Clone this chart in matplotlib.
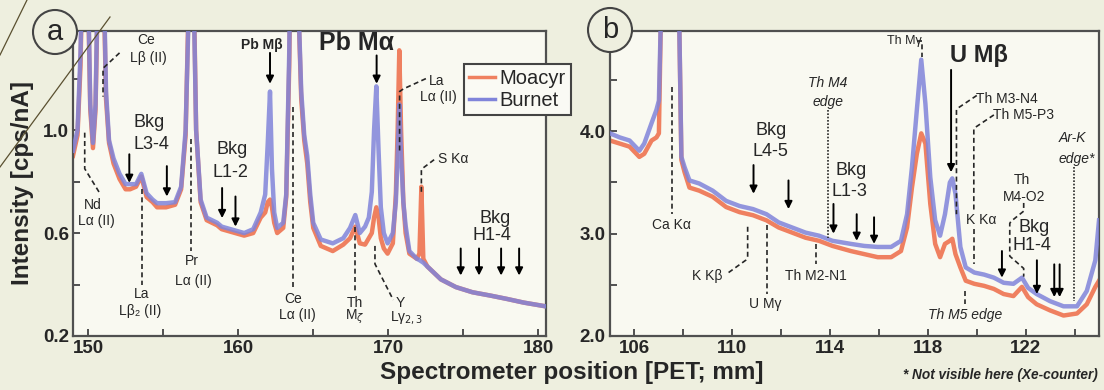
import matplotlib
matplotlib.use('Agg')
import matplotlib.pyplot as plt
from matplotlib.patches import Ellipse
from matplotlib.lines import Line2D

plt.rcParams['font.family'] = ['Liberation Sans', 'DejaVu Sans']

# ---- panel a: spectrometer position [mm], intensity [cps/nA] ----
pos_a = [149.0, 149.3, 149.5, 149.62, 149.8, 149.98, 150.15, 150.33, 150.5, 150.67,
         150.85, 151.03, 151.2, 151.4, 151.7, 152.1, 152.5, 152.8, 153.2, 153.55,
         153.9, 154.3, 154.6, 155.2, 155.8, 156.2, 156.5, 156.7, 156.87, 157.03,
         157.2, 157.5, 157.9, 158.6, 158.9, 159.8, 160.4, 161.0, 161.5, 161.8,
         161.97, 162.12, 162.25, 162.4, 162.6, 163.0, 163.2, 163.4, 163.6, 163.75,
         163.95, 164.2, 164.4, 164.6, 164.8, 165.0, 165.5, 166.3, 167.0, 167.45,
         167.8, 168.1, 168.45, 168.7, 168.9, 169.05, 169.2, 169.35, 169.5, 169.7,
         169.95, 170.3, 170.5, 170.62, 170.73, 170.85, 171.0, 171.15, 171.4, 171.9,
         172.07, 172.2, 172.33, 172.6, 173.5, 174.5, 175.6, 176.8, 177.9, 179.0, 180.5]
moacyr_a = [0.90, 0.98, 1.25, 1.60, 2.60, 1.60, 1.08, 0.93, 1.08, 1.60,
            2.60, 1.60, 1.12, 0.95, 0.87, 0.81, 0.77, 0.77, 0.78, 0.82,
            0.74, 0.72, 0.70, 0.70, 0.71, 0.77, 0.98, 1.50, 2.60, 1.60,
            1.00, 0.72, 0.65, 0.63, 0.615, 0.60, 0.59, 0.60, 0.66, 0.68,
            0.72, 0.73, 0.70, 0.64, 0.60, 0.62, 0.74, 1.25, 2.20, 2.60,
            1.60, 1.12, 0.96, 0.87, 0.72, 0.62, 0.55, 0.53, 0.555, 0.58,
            0.625, 0.56, 0.555, 0.58, 0.60, 0.66, 0.70, 0.66, 0.58, 0.54,
            0.52, 0.56, 0.75, 1.00, 1.31, 1.00, 0.72, 0.60, 0.52, 0.50,
            0.52, 0.78, 0.50, 0.47, 0.42, 0.39, 0.37, 0.357, 0.344, 0.33, 0.315]
burnet_a = [0.92, 1.00, 1.30, 1.65, 2.60, 1.65, 1.10, 0.95, 1.10, 1.65,
            2.60, 1.65, 1.15, 0.96, 0.89, 0.83, 0.79, 0.79, 0.79, 0.83,
            0.755, 0.73, 0.716, 0.716, 0.72, 0.78, 1.00, 1.45, 2.50, 1.55,
            1.00, 0.73, 0.66, 0.64, 0.625, 0.61, 0.60, 0.615, 0.68, 0.75,
            0.95, 1.15, 0.85, 0.68, 0.62, 0.64, 0.75, 1.30, 2.20, 2.60,
            1.60, 1.15, 0.98, 0.90, 0.75, 0.64, 0.575, 0.56, 0.58, 0.62,
            0.67, 0.60, 0.625, 0.66, 0.76, 1.00, 1.17, 0.92, 0.70, 0.60,
            0.56, 0.60, 0.72, 0.90, 1.10, 0.90, 0.72, 0.63, 0.53, 0.50,
            0.495, 0.49, 0.485, 0.47, 0.42, 0.39, 0.37, 0.357, 0.344, 0.33, 0.315]

# ---- panel b ----
pos_b = [105.0, 105.4, 105.8, 106.2, 106.4, 106.7, 106.9, 107.0, 107.08, 107.45,
         107.83, 107.92, 108.05, 108.25, 108.65, 109.2, 109.75, 110.3, 110.85, 111.4,
         111.9, 112.45, 113.0, 113.55, 114.1, 114.85, 115.4, 115.95, 116.5, 116.9,
         117.15, 117.35, 117.55, 117.73, 117.9, 118.1, 118.3, 118.5, 118.7, 118.9,
         119.0, 119.13, 119.33, 119.55, 119.9, 120.3, 120.7, 121.1, 121.5, 121.85,
         122.1, 122.45, 123.0, 123.55, 124.1, 124.5, 124.85, 125.0]
moacyr_b = [3.91, 3.88, 3.85, 3.75, 3.78, 3.91, 3.94, 3.98, 5.1, 9.0,
            5.1, 3.72, 3.60, 3.45, 3.42, 3.36, 3.26, 3.21, 3.18, 3.13,
            3.06, 3.01, 2.96, 2.93, 2.88, 2.83, 2.80, 2.77, 2.77, 2.83,
            3.06, 3.45, 3.78, 3.98, 3.88, 3.29, 2.90, 2.77, 2.90, 2.93,
            2.95, 2.80, 2.67, 2.54, 2.51, 2.49, 2.46, 2.41, 2.39, 2.48,
            2.38, 2.31, 2.25, 2.20, 2.22, 2.31, 2.48, 2.54]
burnet_b = [3.98, 3.94, 3.91, 3.81, 3.88, 4.08, 4.21, 4.30, 5.1, 9.0,
            5.1, 3.75, 3.65, 3.52, 3.49, 3.42, 3.32, 3.27, 3.24, 3.19,
            3.11, 3.06, 3.01, 2.98, 2.93, 2.90, 2.88, 2.87, 2.87, 2.93,
            3.19, 3.65, 4.21, 4.70, 4.27, 3.55, 3.13, 2.98, 3.19, 3.50,
            3.54, 3.39, 2.87, 2.67, 2.62, 2.60, 2.57, 2.52, 2.51, 2.57,
            2.47, 2.41, 2.34, 2.29, 2.29, 2.44, 2.74, 3.13]

# background positions (arrows)
bkg_l34 = [152.75, 155.25]
bkg_l12 = [158.93, 159.82]
bkg_h14_a = [174.82, 176.04, 177.51, 178.71]
bkg_l45 = [110.87, 112.3]
bkg_l13 = [114.14, 115.09, 115.8]
bkg_h14_b = [121.03, 122.46, 123.17, 123.39]

c_moacyr = '#ef8060'
c_burnet = '#8084da'
ink = '#262626'
bg = '#eeefdf'
W, H = 1104, 390

fig = plt.figure(figsize=(W / 100, H / 100), dpi=100, facecolor=bg)
axa = fig.add_axes([73 / W, 1 - 336 / H, 473 / W, 305 / H])
axb = fig.add_axes([610 / W, 1 - 336 / H, 489 / W, 305 / H])


def dash(ax, xs, ys, ls=(0, (3, 2))):
    ax.plot(xs, ys, color=ink, lw=1.2, ls=ls, zorder=4)


def arrow(ax, x, y0, y1):
    ax.annotate('', xy=(x, y1), xytext=(x, y0),
                arrowprops=dict(arrowstyle='-|>', color='k', lw=1.4,
                                mutation_scale=11, shrinkA=0, shrinkB=0), zorder=5)


def txt(ax, x, y, s, size=10, **kw):
    ax.text(x, y, s, ha='center', va='center', fontsize=size, color=ink, zorder=5, **kw)


for ax in (axa, axb):
    ax.set_facecolor('#f9f9f1')
    for sp in ax.spines.values():
        sp.set_color('#505050')
        sp.set_linewidth(1.6)
    ax.tick_params(direction='in', length=5, width=1.4, color='#505050', pad=3)

axa.plot(pos_a, moacyr_a, color=c_moacyr, lw=3.2, zorder=2)
axa.plot(pos_a, burnet_a, color=c_burnet, lw=3.2, alpha=0.85, zorder=3)
axb.plot(pos_b, moacyr_b, color=c_moacyr, lw=3.2, zorder=2)
axb.plot(pos_b, burnet_b, color=c_burnet, lw=3.2, alpha=0.85, zorder=3)

axa.set_xlim(149.0, 180.5)
axa.set_ylim(0.2, 1.385)
axa.set_xticks([150, 155, 160, 165, 170, 175, 180])
axa.set_xticklabels(['150', '', '160', '', '170', '', '180'], fontsize=13.5, fontweight='bold', color=ink)
axa.set_yticks([0.2, 0.4, 0.6, 0.8, 1.0, 1.2])
axa.set_yticklabels(['0.2', '', '0.6', '', '1.0', ''], fontsize=13.5, fontweight='bold', color=ink)

axb.set_xlim(105.0, 125.0)
axb.set_ylim(2.0, 4.98)
axb.set_xticks([106, 108, 110, 112, 114, 116, 118, 120, 122, 124])
axb.set_xticklabels(['106', '', '110', '', '114', '', '118', '', '122', ''], fontsize=13.5, fontweight='bold', color=ink)
axb.set_yticks([2.0, 2.5, 3.0, 3.5, 4.0, 4.5])
axb.set_yticklabels(['2.0', '', '3.0', '', '4.0', ''], fontsize=13.5, fontweight='bold', color=ink)

# ---- panel a annotations ----
txt(axa, 153.9, 1.35, 'Ce')
txt(axa, 154.0, 1.28, 'Lβ (II)')
dash(axa, [152.1, 151.0, 151.0], [1.30, 1.24, 1.13])
txt(axa, 150.33, 0.71, 'Nd')
txt(axa, 150.56, 0.645, 'Lα (II)')
dash(axa, [149.78, 149.78, 150.78], [0.99, 0.85, 0.755])
txt(axa, 153.57, 0.363, 'La')
txt(axa, 153.46, 0.298, 'Lβ₂ (II)')
dash(axa, [153.57, 153.57], [0.77, 0.40])
txt(axa, 156.92, 0.49, 'Pr')
txt(axa, 157.03, 0.415, 'Lα (II)')
dash(axa, [156.88, 156.88], [0.965, 0.53])
txt(axa, 163.68, 0.344, 'Ce')
txt(axa, 163.95, 0.28, 'Lα (II)')
dash(axa, [163.68, 163.68], [1.09, 0.38])
txt(axa, 161.6, 1.33, 'Pb Mβ', size=10, fontweight='bold')
arrow(axa, 162.12, 1.30, 1.18)
txt(axa, 154.1, 1.03, 'Bkg', size=13)
txt(axa, 154.2, 0.945, 'L3-4', size=13)
arrow(axa, bkg_l34[0], 0.906, 0.795)
arrow(axa, bkg_l34[1], 0.86, 0.742)
txt(axa, 159.6, 0.925, 'Bkg', size=13)
txt(axa, 159.5, 0.834, 'L1-2', size=13)
arrow(axa, bkg_l12[0], 0.775, 0.658)
arrow(axa, bkg_l12[1], 0.742, 0.625)
txt(axa, 167.9, 1.337, 'Pb Mα', size=18, fontweight='bold')
arrow(axa, 169.22, 1.29, 1.18)
txt(axa, 173.2, 1.19, 'La')
txt(axa, 173.3, 1.13, 'Lα (II)')
dash(axa, [172.5, 171.0, 170.75, 170.75], [1.20, 1.16, 1.15, 0.91])
txt(axa, 174.3, 0.886, 'S Kα')
dash(axa, [173.05, 172.25, 172.2, 172.2], [0.885, 0.85, 0.845, 0.76])
txt(axa, 167.78, 0.33, 'Th')
txt(axa, 167.78, 0.275, r'M$_\zeta$')
dash(axa, [167.78, 167.78], [0.625, 0.37])
txt(axa, 170.78, 0.33, 'Y')
txt(axa, 171.2, 0.272, r'Lγ$_{2,3}$')
dash(axa, [169.11, 169.11, 170.33], [0.55, 0.48, 0.34])
txt(axa, 177.1, 0.657, 'Bkg', size=13)
txt(axa, 176.9, 0.59, 'H1-4', size=13)
for x in bkg_h14_a:
    arrow(axa, x, 0.54, 0.435)

# ---- panel b annotations ----
txt(axb, 107.5, 3.08, 'Ca Kα')
dash(axb, [107.52, 107.52], [4.43, 3.19])
txt(axb, 108.99, 2.59, 'K Kβ')
dash(axb, [109.85, 110.55, 110.63, 110.63], [2.62, 2.74, 2.78, 3.09])
txt(axb, 111.37, 2.31, 'U Mγ')
dash(axb, [111.41, 111.41], [3.08, 2.41])
txt(axb, 113.4, 2.59, 'Th M2-N1')
dash(axb, [113.44, 113.44], [2.90, 2.70])
txt(axb, 113.9, 4.47, 'Th M4', style='italic')
txt(axb, 113.9, 4.29, 'edge', style='italic')
dash(axb, [113.92, 113.92], [4.21, 2.96], ls=(0, (1, 1)))
txt(axb, 111.58, 4.01, 'Bkg', size=13)
txt(axb, 111.58, 3.80, 'L4-5', size=13)
arrow(axb, bkg_l45[0], 3.67, 3.39)
arrow(axb, bkg_l45[1], 3.52, 3.24)
txt(axb, 114.85, 3.62, 'Bkg', size=13)
txt(axb, 114.8, 3.41, 'L1-3', size=13)
arrow(axb, bkg_l13[0], 3.29, 3.0)
arrow(axb, bkg_l13[1], 3.19, 2.93)
arrow(axb, bkg_l13[2], 3.16, 2.90)
txt(axb, 117.02, 4.88, 'Th Mγ', size=9)
dash(axb, [117.55, 117.77, 117.77], [4.88, 4.88, 4.73])
txt(axb, 120.08, 4.745, 'U Mβ', size=17, fontweight='bold')
arrow(axb, 118.95, 4.6, 3.60)
txt(axb, 121.24, 4.32, 'Th M3-N4')
dash(axb, [120.0, 119.25, 119.17, 119.17], [4.35, 4.23, 4.21, 3.19])
txt(axb, 121.9, 4.16, 'Th M5-P3')
dash(axb, [120.7, 119.95, 119.88, 119.88], [4.16, 4.04, 4.02, 3.22])
txt(axb, 120.2, 3.13, 'K Kα')
dash(axb, [119.9, 119.9], [3.05, 2.70])
txt(axb, 119.54, 2.21, 'Th M5 edge', style='italic')
dash(axb, [119.5, 119.5], [2.44, 2.31])
txt(axb, 121.85, 3.52, 'Th')
txt(axb, 121.92, 3.36, 'M4-O2')
dash(axb, [121.92, 121.92, 121.4, 121.35, 121.35, 121.92, 121.92],
     [3.30, 3.22, 3.12, 3.10, 2.78, 2.66, 2.58])
txt(axb, 122.33, 3.06, 'Bkg', size=13)
txt(axb, 122.26, 2.88, 'H1-4', size=13)
arrow(axb, bkg_h14_b[0], 2.83, 2.57)
arrow(axb, bkg_h14_b[1], 2.74, 2.41)
arrow(axb, bkg_h14_b[2], 2.70, 2.38)
arrow(axb, bkg_h14_b[3], 2.70, 2.38)
txt(axb, 123.9, 3.93, 'Ar-K', style='italic')
txt(axb, 124.1, 3.73, 'edge*', style='italic')
dash(axb, [123.99, 123.99], [3.65, 2.34], ls=(0, (1, 1)))

# legend
handles = [Line2D([], [], color=c_moacyr, lw=2.5), Line2D([], [], color=c_burnet, lw=2.5)]
leg = fig.legend(handles, ['Moacyr', 'Burnet'], loc='upper left',
                 bbox_to_anchor=(464 / W, 1 - 64 / H), fontsize=14.5, frameon=True,
                 fancybox=False, edgecolor='#444444', facecolor='#fafaf4', framealpha=1,
                 handlelength=1.3, handletextpad=0.2, borderpad=0.25, labelspacing=0.15,
                 borderaxespad=0)
leg.get_frame().set_linewidth(1.5)
for t in leg.get_texts():
    t.set_color(ink)

# panel letters
for cx, cy, s in [(55, 32, 'a'), (610, 30, 'b')]:
    fig.add_artist(Ellipse((cx / W, 1 - cy / H), 44 / W, 44 / H, transform=fig.transFigure,
                           facecolor=bg, edgecolor='#444444', lw=1.5, zorder=10))
    fig.text(cx / W, 1 - cy / H, s, ha='center', va='center', fontsize=21, color=ink, zorder=11)

fig.text(23 / W, 1 - 183 / H, 'Intensity [cps/nA]', rotation=90, ha='center', va='center',
         fontsize=17.5, fontweight='bold', color=ink)
fig.text(572 / W, 1 - 373 / H, 'Spectrometer position [PET; mm]', ha='center', va='center',
         fontsize=17.5, fontweight='bold', color=ink)
fig.text(1098 / W, 1 - 375 / H, '* Not visible here (Xe-counter)', ha='right', va='center',
         fontsize=9.8, fontweight='bold', style='italic', color=ink)

# slide decoration lines
fig.add_artist(Line2D([0, 27 / W], [1 - 55 / H, 1], transform=fig.transFigure,
                      color='#5a5030', lw=0.9, zorder=12))
fig.add_artist(Line2D([0, 110 / W], [1 - 167 / H, 1 - 17 / H], transform=fig.transFigure,
                      color='#5a5030', lw=0.9, zorder=12))

fig.savefig('out.png', dpi=100, facecolor=bg)
